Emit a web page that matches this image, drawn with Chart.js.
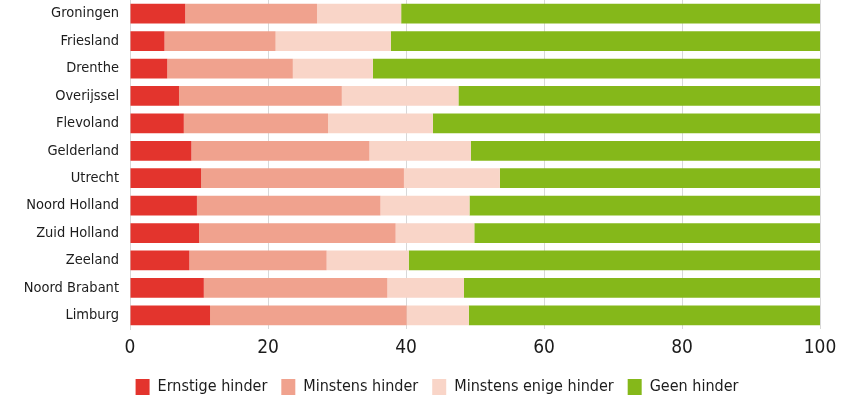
<!DOCTYPE html>
<html>
<head>
<meta charset="utf-8">
<script src="https://cdn.jsdelivr.net/npm/chart.js@4"></script>
<style>
  html, body { margin: 0; padding: 0; background: #fff; }
  #wrap { width: 868px; height: 398px; }
</style>
</head>
<body>
<div id="wrap"><canvas id="hinderChart"></canvas></div>
<script>
// provincies en aandeel per hindercategorie (%)
var provincies = ['Groningen', 'Friesland', 'Drenthe', 'Overijssel', 'Flevoland', 'Gelderland',
  'Utrecht', 'Noord Holland', 'Zuid Holland', 'Zeeland', 'Noord Brabant', 'Limburg'];
var ernstig = [8.0, 5.0, 5.4, 7.1, 7.8, 8.9, 10.3, 9.7, 10.0, 8.6, 10.7, 11.6];
var minstens = [19.1, 16.1, 18.2, 23.6, 20.9, 25.8, 29.4, 26.6, 28.5, 19.9, 26.6, 28.5];
var enige = [12.2, 16.7, 11.6, 16.9, 15.2, 14.7, 13.9, 12.9, 11.4, 11.9, 11.1, 9.0];
var geen = [60.7, 62.2, 64.8, 52.4, 56.1, 50.6, 46.4, 50.8, 50.1, 59.6, 51.6, 50.9];
var xTicks = [0, 20, 40, 60, 80, 100];

var fontFam = "'Liberation Sans Narrow', 'DejaVu Sans Condensed', 'Arial Narrow', sans-serif";
var tekstKleur = '#1c1c1c';

function maakSet(label, data, kleur) {
  return {
    label: label,
    data: data,
    backgroundColor: kleur,
    borderWidth: 0,
    barPercentage: 0.72,
    categoryPercentage: 1.0
  };
}

// legenda iets naar rechts, zodat die midden op het canvas staat
var legendaSchuif = {
  id: 'legendaSchuif',
  afterLayout: function (chart) {
    if (chart.legend) chart.legend.left += 54;
  }
};

var ctx = document.getElementById('hinderChart').getContext('2d');
var hinderChart = new Chart(ctx, {
  type: 'bar',
  data: {
    labels: provincies,
    datasets: [
      maakSet('Ernstige hinder', ernstig, '#e3342d'),
      maakSet('Minstens hinder', minstens, '#f0a28e'),
      maakSet('Minstens enige hinder', enige, '#f9d5c8'),
      maakSet('Geen hinder', geen, '#85b81a')
    ]
  },
  options: {
    indexAxis: 'y',
    responsive: true,
    maintainAspectRatio: false,
    animation: false,
    layout: { padding: { top: 0, right: 48, bottom: -7, left: 0 } },
    plugins: {
      tooltip: { enabled: false },
      legend: {
        position: 'bottom',
        labels: {
          boxWidth: 14,
          boxHeight: 16,
          padding: 14,
          color: tekstKleur,
          font: { family: fontFam, size: 16 }
        }
      }
    },
    scales: {
      x: {
        stacked: true,
        min: 0,
        max: 100,
        afterBuildTicks: function (s) {
          s.ticks = xTicks.map(function (v) { return { value: v }; });
        },
        afterFit: function (s) { s.height = 36; },
        grid: { color: '#d8d8d8', lineWidth: 1, drawTicks: false },
        border: { display: false },
        ticks: {
          color: tekstKleur,
          padding: 8,
          font: { family: fontFam, size: 19 }
        }
      },
      y: {
        stacked: true,
        afterFit: function (s) {
          s.width = 130;
          s.paddingTop = 0;
          s.paddingBottom = 0;
        },
        grid: { display: false, drawTicks: false },
        border: { display: true, color: '#d8d8d8' },
        ticks: {
          color: tekstKleur,
          padding: 11,
          font: { family: fontFam, size: 14.5 }
        }
      }
    }
  },
  plugins: [legendaSchuif]
});
</script>
</body>
</html>
